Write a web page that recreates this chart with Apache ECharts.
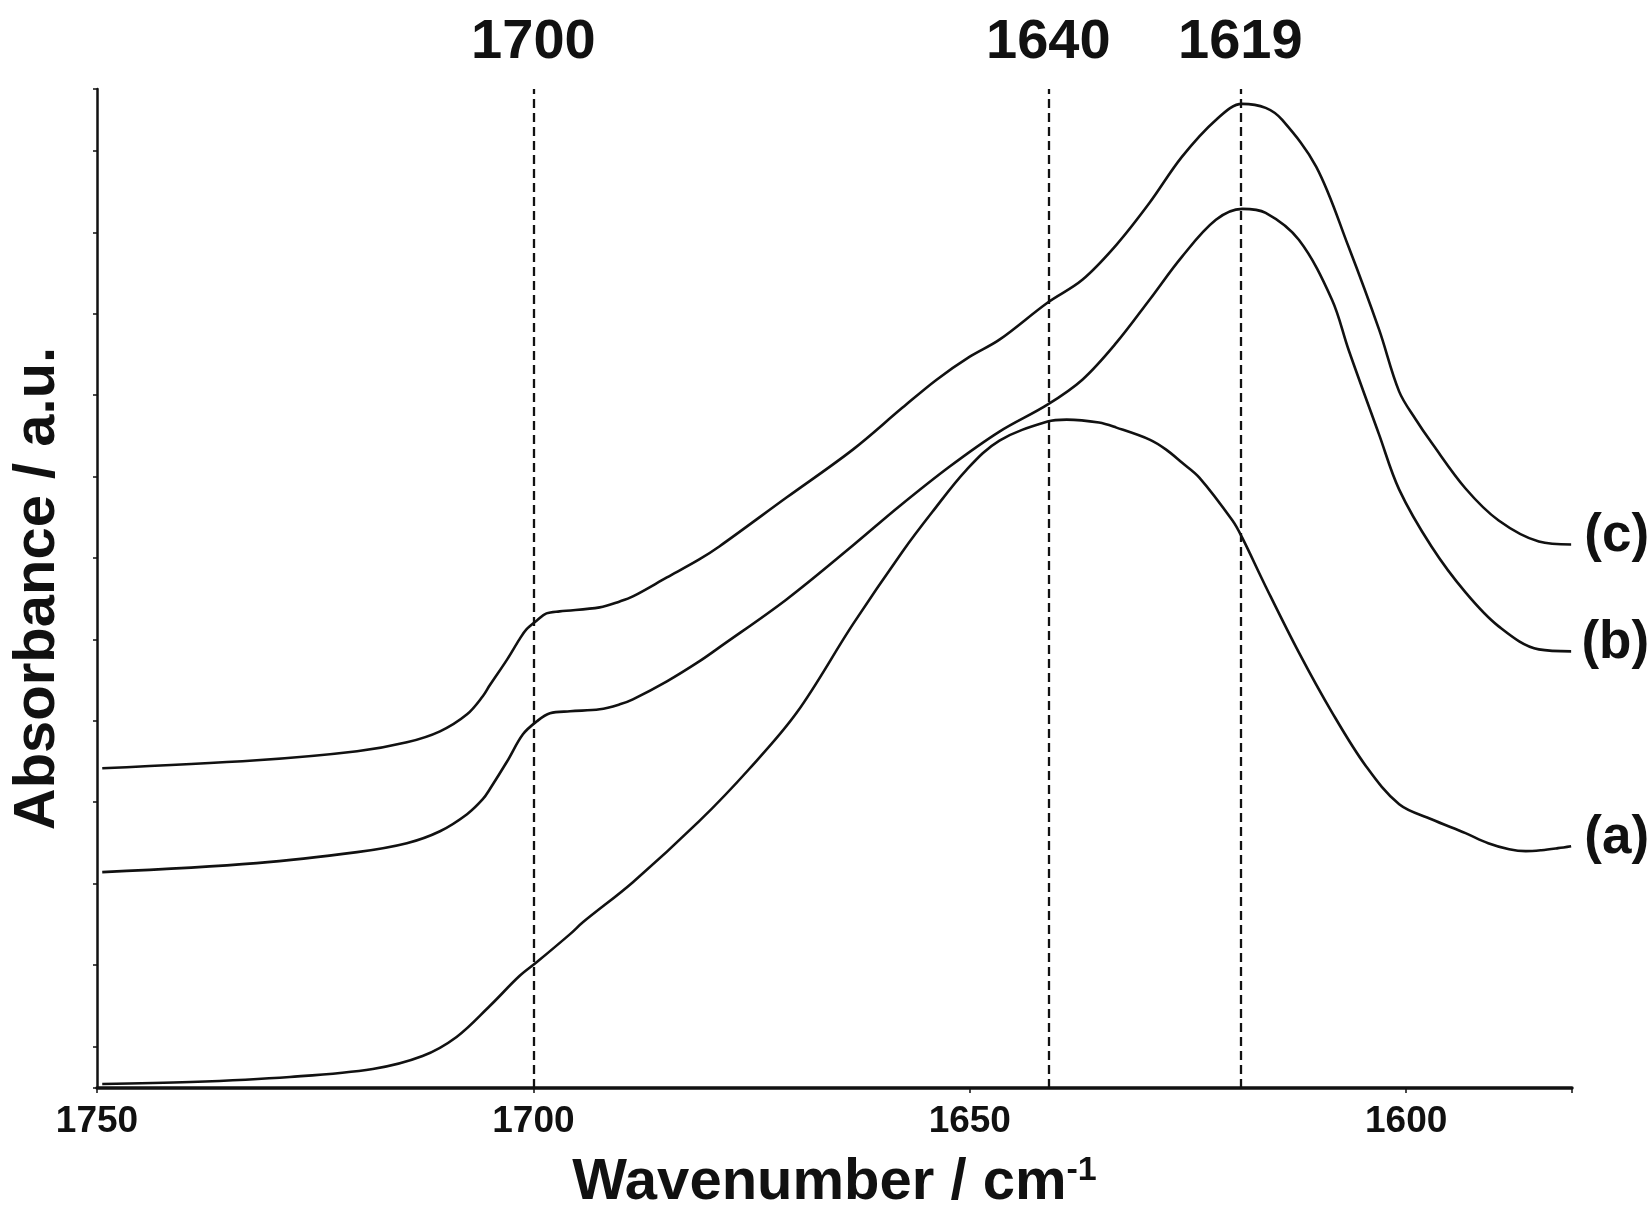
<!DOCTYPE html>
<html>
<head>
<meta charset="utf-8">
<script src="https://cdn.jsdelivr.net/npm/echarts@6/dist/echarts.min.js"></script>
<style>
html,body{margin:0;padding:0;background:#ffffff;}
#chart{width:1651px;height:1220px;}
</style>
</head>
<body>
<div id="chart"></div>
<script>
// [wavenumber (cm-1), absorbance (a.u., offset)]
const spectrumA = [
  [1749.4,-0.460],[1739.3,-0.436],[1727.9,-0.374],[1718.4,-0.276],[1712.7,-0.117],
  [1708.8,0.117],[1705.0,0.497],[1701.6,0.865],[1699.6,1.037],[1695.8,1.380],
  [1694.3,1.528],[1688.6,2.018],[1681.0,2.767],[1675.3,3.405],[1669.8,4.104],
  [1663.4,5.184],[1657.7,6.080],[1654.3,6.564],[1650.4,7.080],[1646.6,7.442],
  [1641.1,7.675],[1638.9,7.699],[1635.2,7.663],[1633.2,7.601],[1629.4,7.454],
  [1627.5,7.331],[1625.7,7.172],[1623.7,6.988],[1619.9,6.460],[1618.8,6.252],
  [1616.1,5.650],[1612.3,4.840],[1608.5,4.104],[1604.6,3.442],[1600.8,2.975],
  [1597.1,2.791],[1593.2,2.620],[1590.6,2.497],[1588.2,2.423],[1586.3,2.399],
  [1584.5,2.411],[1582.6,2.436],[1581.1,2.460]
];
const spectrumB = [
  [1749.4,2.141],[1731.7,2.252],[1720.2,2.387],[1714.5,2.497],[1710.7,2.644],
  [1707.6,2.853],[1705.8,3.037],[1705.0,3.160],[1703.0,3.503],[1701.2,3.834],
  [1699.6,3.994],[1698.1,4.092],[1695.8,4.117],[1692.4,4.141],[1690.1,4.202],
  [1688.6,4.264],[1684.7,4.485],[1681.0,4.730],[1678.7,4.902],[1671.0,5.491],
  [1663.4,6.153],[1658.1,6.632],[1652.3,7.123],[1646.6,7.552],[1641.1,7.883],
  [1637.1,8.190],[1633.2,8.644],[1629.4,9.172],[1625.7,9.699],[1621.8,10.153],
  [1618.8,10.288],[1616.1,10.239],[1612.3,9.908],[1608.5,9.172],[1606.6,8.558],
  [1603.1,7.515],[1600.8,6.840],[1597.1,6.141],[1593.2,5.577],[1589.4,5.160],
  [1584.8,4.877],[1581.1,4.853]
];
const spectrumC = [
  [1749.4,3.417],[1731.7,3.515],[1720.2,3.626],[1714.5,3.736],[1710.7,3.871],
  [1707.6,4.080],[1705.8,4.301],[1705.0,4.436],[1703.0,4.755],[1701.6,5.000],
  [1700.8,5.123],[1699.6,5.233],[1698.5,5.319],[1697.0,5.344],[1692.4,5.393],
  [1690.1,5.466],[1688.6,5.528],[1684.7,5.761],[1681.0,5.982],[1678.7,6.141],
  [1671.0,6.742],[1663.4,7.331],[1657.7,7.847],[1653.8,8.190],[1650.0,8.472],
  [1646.6,8.681],[1641.1,9.135],[1637.1,9.417],[1633.2,9.846],[1629.4,10.362],
  [1625.7,10.926],[1621.8,11.380],[1618.8,11.577],[1616.1,11.528],[1614.2,11.380],
  [1610.3,10.804],[1606.6,9.822],[1603.1,8.804],[1600.8,8.043],[1598.9,7.700],
  [1597.1,7.417],[1593.2,6.853],[1589.4,6.460],[1584.8,6.202],[1581.1,6.166]
];
const seriesNames = ['(a)', '(b)', '(c)'];
const peakPositions = [1700, 1641, 1619];
const peakLabels = ['1700', '1640', '1619'];
const xTickLabels = [1750, 1700, 1650, 1600];

const chart = echarts.init(document.getElementById('chart'), null, {renderer: 'canvas'});
const ink = '#111111';
const boldFont = '"Liberation Sans", Arial, sans-serif';

function lineSeries(name, data, extra) {
  return Object.assign({
    name: name,
    type: 'line',
    data: data,
    showSymbol: false,
    smooth: 0.35,
    silent: true,
    clip: false,
    lineStyle: {color: ink, width: 2.6},
    endLabel: {
      show: true,
      formatter: name,
      color: ink,
      fontFamily: boldFont,
      fontWeight: 'bold',
      fontSize: 53,
      distance: 10,
      offset: [88, -8]
    }
  }, extra || {});
}

const option = {
  animation: false,
  backgroundColor: '#ffffff',
  grid: {left: 97, right: 79, top: 89, bottom: 132, containLabel: false},
  xAxis: {
    type: 'value',
    inverse: true,
    min: 1581,
    max: 1750,
    splitNumber: 3,
    name: '{t|Wavenumber / cm}{s|-1}',
    nameLocation: 'middle',
    nameGap: 66,
    nameTextStyle: {
      rich: {
        t: {fontFamily: boldFont, fontWeight: 'bold', fontSize: 58, color: ink},
        s: {fontFamily: boldFont, fontWeight: 'bold', fontSize: 34, color: ink, verticalAlign: 'top', padding: [0, 0, 22, 0]}
      }
    },
    axisLine: {onZero: false, lineStyle: {color: ink, width: 3.5}},
    axisTick: {show: true, length: 5, lineStyle: {color: ink, width: 1.5}},
    axisLabel: {
      margin: 15,
      color: ink,
      fontFamily: boldFont,
      fontWeight: 'bold',
      fontSize: 37,
      formatter: function (v) { return xTickLabels.indexOf(v) >= 0 ? String(v) : ''; }
    },
    splitLine: {show: false}
  },
  yAxis: {
    type: 'value',
    min: -0.51,
    max: 11.76,
    splitNumber: 12,
    name: 'Absorbance / a.u.',
    nameLocation: 'middle',
    nameGap: 30,
    nameTextStyle: {fontFamily: boldFont, fontWeight: 'bold', fontSize: 58, color: ink},
    axisLine: {show: true, onZero: false, lineStyle: {color: ink, width: 2.5}},
    axisTick: {show: true, length: 4, lineStyle: {color: ink, width: 1.5}},
    axisLabel: {show: false},
    splitLine: {show: false}
  },
  series: [
    lineSeries(seriesNames[0], spectrumA, {
      markLine: {
        silent: true,
        symbol: ['none', 'none'],
        lineStyle: {color: ink, width: 2.3, type: [9, 5]},
        label: {
          show: true,
          position: 'end',
          distance: 18,
          color: ink,
          fontFamily: boldFont,
          fontWeight: 'bold',
          fontSize: 56
        },
        data: peakPositions.map(function (p, i) {
          return {xAxis: p, label: {formatter: peakLabels[i]}};
        })
      }
    }),
    lineSeries(seriesNames[1], spectrumB),
    lineSeries(seriesNames[2], spectrumC)
  ]
};
chart.setOption(option);
</script>
</body>
</html>
